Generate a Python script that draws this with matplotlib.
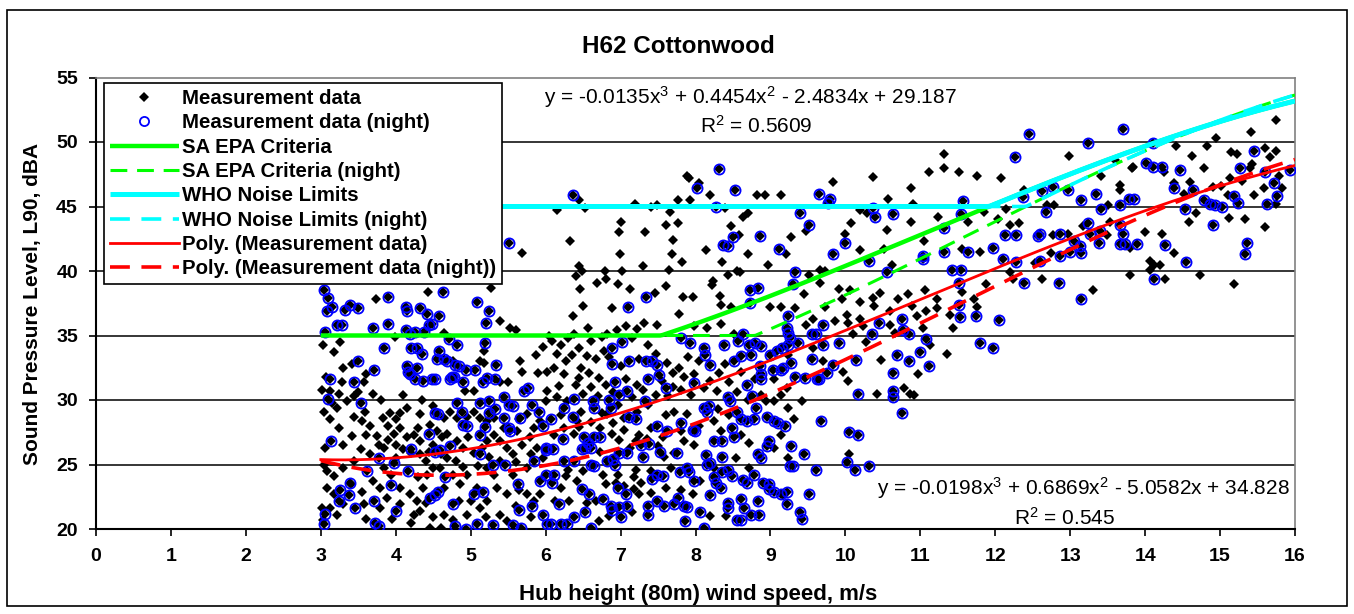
import numpy as np
import matplotlib
matplotlib.use("Agg")
import matplotlib.pyplot as plt
from matplotlib.patches import Rectangle

plt.rcParams['font.family'] = ['Liberation Sans', 'DejaVu Sans']
plt.rcParams['mathtext.default'] = 'regular'

# ---------------- data ----------------
# night measurements (blue circles; they are also part of the full measurement set)
night_pts = [
    (3.04,38.5),(3.10,37.9),(3.90,38.0),(4.63,38.4),(5.51,42.2),
    (3.08,36.9),(3.15,37.2),(3.32,37.0),(3.39,37.4),(3.50,37.1),(3.21,35.8),(3.28,35.8),(3.05,35.3),
    (3.69,35.6),(3.90,35.9),(4.14,37.2),(4.15,36.9),(4.32,37.1),(4.42,36.7),(4.58,36.5),(4.14,35.4),
    (4.19,35.1),(4.26,35.3),(4.38,35.3),(4.44,35.8),(4.48,35.9),(5.25,36.9),(5.21,36.0),(5.08,37.6),
    (3.10,30.1),(3.12,31.6),(3.14,26.85),(3.05,21.2),(3.04,20.4),
    (3.84,34.0),(4.71,34.7),(4.82,34.3),(4.21,34.0),(4.28,34.0),(4.35,33.6),(4.58,33.8),(5.19,34.4),
    (3.50,33.0),(3.71,32.3),(3.44,31.4),(3.53,29.8),
    (4.55,33.2),(4.64,33.2),(4.68,33.0),(4.79,32.7),(4.84,32.6),(4.15,32.6),(4.17,32.2),(4.19,32.0),
    (4.28,32.5),(4.26,31.6),(4.36,31.5),(4.48,31.6),(4.53,31.6),(4.72,31.6),(4.75,31.8),(4.78,31.8),
    (4.90,31.4),(4.94,32.3),(5.06,32.3),(5.16,31.4),(5.22,31.7),(5.33,31.6),(5.34,32.7),
    (4.82,29.8),(4.88,29.1),(5.13,29.8),(5.25,29.9),(5.33,29.3),(5.45,30.2),(5.51,29.6),(5.57,29.5),
    (5.66,28.6),(5.71,30.7),(5.77,30.9),(5.82,29.6),(5.91,29.1),(5.44,28.6),(5.51,27.8),(5.53,27.6),
    (5.24,29.0),(5.19,27.9),(4.90,28.1),(4.95,28.0),(5.13,27.3),(4.57,28.9),(4.53,29.0),(4.44,27.4),
    (4.72,26.4),(5.13,25.8),(4.21,26.2),(4.53,26.0),(4.59,26.1),(3.77,25.5),(3.97,25.1),(3.61,24.5),
    (4.17,24.5),(5.30,25.0),(5.46,25.0),(5.63,23.5),(5.84,25.3),(5.93,23.7),(6.00,24.2),(4.66,24.0),
    (3.93,23.4),(3.39,23.6),(3.25,23.0),(3.24,22.2),(3.38,22.6),(3.45,21.6),(3.71,22.2),(4.01,21.4),
    (4.57,22.9),(4.53,22.6),(4.46,22.4),(5.04,22.7),(5.16,22.9),(4.76,21.9),(5.82,21.8),(5.64,21.5),
    (3.72,20.5),(3.77,20.2),(4.79,20.2),(4.94,20.0),(5.08,20.4),(5.30,20.3),(5.57,20.3),(5.67,20.1),
    (5.96,21.1),(6.02,20.4),
    (7.10,37.2),(8.73,37.5),(9.23,36.5),(7.02,34.5),(6.89,34.0),(7.11,33.0),(6.89,32.8),(6.92,31.4),
    (7.09,30.7),(7.34,33.0),(7.42,33.0),(7.49,32.7),(7.51,31.9),(7.36,31.6),(7.61,30.9),(7.32,29.9),
    (7.81,34.8),(7.93,34.4),(8.11,34.0),(8.13,33.5),(8.20,32.7),(8.38,34.3),(8.51,33.0),(8.61,33.4),
    (8.63,35.1),(8.57,34.6),(8.72,34.3),(8.79,34.4),(8.88,34.2),(8.74,33.5),(8.86,32.6),(8.88,32.0),
    (8.87,31.6),(9.00,33.5),(9.09,33.8),(9.16,34.0),(9.23,34.3),(9.04,32.3),(9.14,32.3),
    (7.98,31.3),(8.43,30.2),(8.46,29.9),(8.11,29.4),(8.18,29.5),(8.16,29.1),(8.76,30.3),(8.81,29.4),
    (8.56,29.1),(8.69,31.2),
    (7.96,27.7),(7.99,27.6),(7.48,28.0),(7.62,27.6),(7.81,28.2),(8.49,27.8),(8.61,28.5),(8.69,28.4),
    (8.78,28.5),(8.96,28.7),(9.05,28.4),(9.10,28.2),(8.52,27.1),(8.25,26.8),(8.36,26.8),(8.98,26.8),
    (8.96,26.4),(8.83,25.8),(8.87,25.5),(8.36,25.6),(8.14,25.7),(7.75,25.9),(7.52,26.0),(7.38,26.6),
    (7.27,26.5),(7.30,25.6),(7.08,25.9),(6.98,25.9),(6.90,25.4),(6.92,25.0),(6.82,25.3),(6.73,27.1),
    (6.64,27.1),(6.60,26.3),(6.56,26.7),(6.52,26.3),(6.49,26.2),(6.51,27.1),(6.60,25.0),(6.64,24.9),
    (6.38,25.3),(6.24,25.3),(6.10,26.2),(6.23,27.0),(6.01,26.1),(6.00,26.3),(6.07,28.5),(5.96,28.0),
    (6.38,30.1),(6.63,29.9),(6.65,29.4),(6.85,30.0),(6.87,29.4),(6.98,30.4),(6.36,28.7),(6.24,29.4),
    (7.11,28.7),(7.20,28.5),
    (7.89,24.7),(7.91,24.4),(7.98,23.7),(7.49,24.2),(7.56,24.1),(7.42,23.9),(7.79,24.4),(8.15,25.0),
    (8.20,25.1),(8.25,24.0),(8.27,23.6),(8.36,24.4),(8.43,24.6),(8.49,24.1),(8.63,23.8),(8.69,23.6),
    (8.78,24.2),(8.90,23.6),(8.98,23.5),(8.98,23.1),(8.83,22.2),(9.05,22.9),(9.14,22.7),(8.20,22.6),
    (8.34,23.2),(8.43,22.0),(8.44,21.6),(8.61,22.3),(8.65,21.6),(8.74,21.1),(8.85,21.1),(8.55,20.7),
    (8.61,20.7),(7.76,22.4),(7.85,21.8),(7.89,21.7),(7.86,20.6),(8.06,21.3),(8.12,20.1),(7.58,21.8),
    (7.71,21.9),(7.49,22.2),(7.36,21.8),(7.37,21.1),(7.09,21.8),(7.00,20.9),(6.98,21.7),(6.89,21.5),
    (6.87,21.8),(7.07,22.7),(6.96,23.2),(6.76,22.3),(6.49,23.1),(6.58,22.7),(6.53,21.3),(6.38,20.9),
    (6.29,20.4),(6.20,20.4),(6.07,20.4),(6.18,21.9),(6.61,20.1),(6.11,24.2),(6.09,23.6),
    (6.37,45.9),(8.02,46.4),(8.32,47.9),(8.53,46.3),(8.28,45.0),(8.50,42.6),(8.37,42.0),(8.44,41.9),
    (8.86,42.7),(9.11,41.7),(7.34,38.0),(8.73,38.5),(8.84,38.7),
    (12.45,50.65),(12.26,48.8),(9.65,46.0),(9.79,45.6),(9.77,45.3),(9.39,44.5),(9.52,43.6),(10.37,44.9),
    (10.39,44.2),(10.64,44.4),(11.57,45.4),(11.54,44.4),(11.31,43.3),(9.99,42.2),(9.83,41.3),(10.32,40.8),
    (11.04,41.2),(11.04,40.9),(11.31,41.5),(11.64,41.5),(11.97,41.8),(12.13,42.8),(12.28,42.8),
    (12.10,40.9),(12.28,40.7),(12.37,45.7),(9.33,39.9),(9.30,39.0),(10.55,39.9),(11.42,40.1),(11.54,40.1),
    (11.52,39.1),(12.39,39.1),(11.52,37.4),
    (9.70,35.8),(10.45,36.0),(10.75,36.3),(11.53,36.4),(11.74,36.5),(12.05,36.2),(11.79,34.4),
    (11.97,34.0),(9.22,35.6),(9.24,35.2),(9.26,34.8),(9.55,35.1),(9.61,35.1),(9.37,34.4),(9.70,34.3),
    (9.92,34.4),(10.35,35.1),(10.77,35.4),(10.85,35.1),(11.08,34.7),(10.99,33.7),(10.69,33.5),(10.85,33.0),
    (11.12,32.6),(10.64,32.1),(10.14,33.1),(9.84,32.7),(9.76,32.1),(9.65,31.6),(9.62,31.6),(9.46,31.7),
    (9.33,31.8),(9.17,32.5),(9.28,32.9),(9.55,33.2),(10.17,30.5),(10.63,30.7),(10.63,30.2),(10.75,29.0),
    (9.68,28.4),(10.05,27.5),(10.17,27.3),(10.02,25.2),(10.13,24.6),(10.31,24.9),(9.19,28.0),(9.28,26.4),
    (9.45,25.8),(9.26,24.9),(9.30,24.9),(9.61,24.6),(9.22,22.9),(9.51,22.7),(9.22,21.9),(9.39,21.3),
    (9.42,20.8),
    (13.71,51.0),(13.24,49.9),(14.10,49.9),(14.01,48.4),(14.11,48.1),(14.22,48.1),(14.46,47.8),
    (15.27,48.0),(15.45,49.3),(15.60,47.7),(15.93,47.8),(15.72,46.8),(15.76,45.8),(15.63,45.2),(15.18,45.8),
    (15.24,45.3),(14.64,46.3),(14.38,46.4),(14.78,45.5),(14.87,45.2),(14.93,45.1),(15.03,45.0),(14.53,44.8),
    (14.91,43.6),(15.36,42.2),(15.33,41.3),(14.55,40.7),(14.26,42.0),(14.12,39.4),(12.62,46.2),(12.77,46.5),
    (12.97,46.3),(13.15,45.5),(13.35,46.0),(12.68,44.6),(13.41,44.8),(13.66,45.1),(13.78,45.6),(13.85,45.6),
    (12.60,42.9),(12.57,42.7),(12.86,42.9),(13.24,43.7),(13.27,42.9),(13.40,43.1),(13.66,43.6),(13.70,42.9),
    (13.66,42.1),(13.73,42.1),(13.89,42.1),(13.05,42.3),(13.13,41.9),(13.15,41.4),(13.00,41.5),(12.87,41.2),
    (12.60,40.8),(12.85,39.1),(13.14,37.8),(13.39,42.2),
]

# remaining (day) measurements: black diamonds only
day_pts = [
    (3.04,25.0),(3.02,21.6),(3.74,37.8),(4.43,38.35),(5.27,38.7),(5.68,41.4),
    (3.03,34.3),(3.25,34.5),(3.17,33.7),(3.99,34.9),(4.65,35.2),(5.39,36.1),(5.52,35.6),(5.61,35.4),
    (5.87,33.5),(5.97,34.1),(5.18,33.8),(5.18,32.9),(4.76,33.0),(3.41,32.8),(3.57,31.4),(3.07,31.8),
    (3.28,31.4),(3.01,30.8),(3.12,30.7),(3.24,30.5),(3.44,30.3),(3.50,30.6),(5.39,31.4),(5.50,31.4),
    (5.04,30.7),(4.93,30.7),(5.13,33.0),(5.66,33.0),(5.68,32.2),(5.90,32.1),(6.02,32.2),
    (3.04,29.1),(3.21,29.4),(3.12,28.5),(3.24,27.8),(3.44,28.7),(3.59,29.1),(3.55,28.4),(3.66,28.0),
    (3.41,27.2),(3.30,26.5),(3.06,26.3),(3.53,26.2),(3.44,25.3),(3.66,25.8),(3.08,24.5),(3.17,24.1),
    (3.30,24.7),(3.83,28.6),(3.92,29.0),(4.01,28.5),(3.89,28.0),(3.97,27.4),(4.06,27.8),(4.15,27.1),
    (4.30,27.8),(4.24,27.3),(4.33,26.8),(4.46,28.1),(4.55,27.6),(4.62,27.1),(4.68,27.4),(4.50,26.5),
    (4.44,26.0),(4.33,25.8),(4.10,26.2),(4.01,25.5),(3.84,26.3),(3.77,26.5),(4.82,26.8),(4.90,26.3),
    (4.97,27.1),(5.04,25.9),(5.15,26.3),(5.22,26.8),(5.31,27.3),(5.39,26.8),(5.48,26.3),(5.57,25.8),
    (5.68,26.5),(5.79,27.1),(5.88,26.3),(5.97,25.5),(5.84,27.8),(5.93,28.4),(5.62,27.6),(5.31,28.6),
    (5.22,28.4),(5.04,29.1),(5.13,28.6),(4.95,28.7),(4.82,28.6),(4.73,29.1),(4.64,28.6),(4.33,28.9),
    (4.15,29.4),(4.06,29.0),
    (3.08,23.2),(3.17,22.7),(3.30,21.9),(3.12,21.6),(3.03,20.7),(3.21,21.1),(3.57,21.9),(3.79,21.6),
    (3.88,22.4),(4.06,21.9),(4.06,23.2),(4.19,22.7),(4.28,22.2),(4.37,23.2),(4.33,21.4),(4.24,21.1),
    (4.50,20.9),(4.64,21.1),(4.60,20.1),(4.77,20.7),(4.95,21.1),(5.00,22.2),(5.13,21.6),(5.08,23.2),
    (4.86,23.5),(4.77,24.2),(4.95,24.2),(4.59,24.7),(4.42,24.2),(4.30,24.0),(3.93,24.2),(3.84,24.7),
    (3.70,23.7),(5.22,22.2),(5.35,23.2),(5.48,22.7),(5.39,21.1),(5.48,20.6),(5.75,22.7),(5.84,22.2),
    (5.93,22.7),(5.80,20.9),(5.31,24.2),(5.57,24.2),(5.75,24.7),(5.39,25.3),(5.22,24.7),(4.68,25.5),
    (4.50,24.7),(3.79,23.2),(4.46,20.1),
    (3.60,27.3),(3.75,27.2),(3.90,26.9),(4.00,26.5),(4.20,25.9),(4.40,25.3),(4.60,25.8),(4.80,25.3),
    (4.90,24.8),(5.10,24.9),(5.25,25.6),(5.60,25.2),(5.80,25.8),(5.65,28.5),(5.45,27.8),(5.75,28.9),
    (4.50,29.5),(4.35,30.0),(4.10,30.4),(3.80,30.0),(3.70,30.5),(3.60,32.0),(3.30,32.5),(3.15,29.8),
    (3.35,29.9),(3.40,23.5),(3.55,22.9),(3.60,20.8),(3.95,20.8),(4.20,20.5),(4.85,22.2),(5.20,20.9),
    (5.60,21.8),(5.65,23.0),(4.65,23.2),(4.40,22.0),
    (6.50,37.3),(6.89,37.1),(6.36,36.5),(6.56,35.6),(6.09,34.6),(7.78,36.7),(8.34,37.4),(8.47,37.2),
    (9.00,37.2),(9.14,37.2),(7.07,35.7),(7.22,35.5),(7.49,35.8),(7.31,36.0),(8.34,35.9),(8.16,35.6),
    (7.98,35.7),(8.52,35.1),(6.82,35.1),(6.38,35.1),(7.36,34.3),(7.47,33.6),(7.25,33.2),(7.62,32.9),
    (7.78,32.5),(7.98,32.0),(7.85,31.8),(7.70,32.1),(6.78,33.8),(6.67,33.2),(6.47,32.5),(6.27,33.0),
    (6.11,32.5),(6.58,32.1),(6.71,31.7),(6.40,31.2),(6.18,31.1),(6.02,30.7),(7.22,31.2),(7.07,31.6),
    (8.32,32.1),(8.45,31.4),(8.61,32.2),(8.79,31.6),(9.05,31.6),(9.14,30.4),(9.23,29.4),(8.94,29.9),
    (9.05,29.9),(8.87,30.4),(8.29,30.7),(8.11,30.9),(7.94,30.4),(7.80,30.8),(7.63,30.3),(7.47,30.4),
    (7.36,29.6),(7.22,29.1),(7.05,28.6),(6.96,29.6),(6.82,28.9),(6.73,27.8),(6.89,27.4),(6.98,26.9),
    (7.05,27.7),(7.25,27.3),(7.40,27.8),(7.56,27.1),(7.71,29.1),(7.89,28.9),(8.25,28.4),(8.34,27.6),
    (8.61,27.3),(8.72,26.7),(9.05,26.3),(9.14,27.3),(7.98,26.5),(7.85,26.8),(7.71,25.9),(7.58,25.6),
    (7.20,26.8),(7.13,26.3),(6.42,28.4),(6.24,27.8),(6.11,27.3),(6.47,29.1),(6.29,29.9),(6.00,29.9),
    (6.38,27.4),(6.73,26.0),(6.96,24.2),(6.94,23.6),(7.18,24.0),(7.27,23.6),(7.18,23.1),(7.25,22.7),
    (6.76,24.2),(6.27,24.1),(6.42,23.7),(6.20,23.2),(6.13,22.2),(6.31,22.2),(6.71,20.6),(6.67,22.2),
    (8.72,24.7),(8.54,25.5),(9.23,25.5),(8.25,24.7),(8.06,23.7),(7.96,22.7),(7.67,24.7),(8.20,21.0),
    (8.41,21.0),
    (6.05,35.0),(6.20,34.3),(6.30,34.8),(6.45,34.0),(6.60,34.6),(6.75,34.9),(6.95,35.4),(7.15,34.8),
    (6.15,33.6),(6.35,33.5),(6.55,33.4),(6.85,33.3),(7.00,32.6),(6.25,32.0),(6.45,31.7),(6.60,31.0),
    (6.80,31.2),(6.90,30.6),(6.15,30.2),(6.50,30.5),(6.70,30.3),(7.15,30.2),(7.30,30.8),(7.55,31.5),
    (7.70,31.0),(7.90,33.3),(8.05,33.0),(8.20,31.5),(8.40,32.8),(8.55,30.6),(8.70,30.0),(8.30,29.3),
    (8.45,28.8),(7.60,28.8),(7.80,27.6),(8.05,28.0),(7.35,27.0),(7.50,26.4),(6.60,28.3),(6.90,28.2),
    (6.20,28.8),(6.45,27.9),(6.75,29.0),
    (6.30,24.6),(6.50,24.5),(6.80,23.5),(7.05,23.3),(7.20,24.6),(7.40,24.5),(6.55,22.0),(6.85,21.0),
    (7.15,21.3),(7.40,22.8),(7.60,23.2),(7.80,23.0),
    (6.15,44.7),(6.32,42.3),(6.44,45.5),(6.53,44.9),(7.19,45.2),(7.41,45.0),(7.48,45.1),(7.66,44.6),
    (7.77,45.5),(7.92,45.5),(7.88,47.4),(7.91,47.2),(8.05,46.8),(8.20,45.9),(8.39,44.9),(8.64,44.2),
    (8.70,44.5),(8.82,45.9),(8.93,45.9),(9.14,45.9),(8.48,43.5),(8.58,42.8),(7.01,43.8),(6.98,43.0),
    (7.33,43.0),(7.61,43.6),(7.76,43.7),(7.70,42.4),(6.99,41.3),(7.68,41.3),(7.82,40.7),(8.14,41.6),
    (8.35,40.7),(8.70,41.3),(8.97,40.5),(9.21,41.3),(6.44,40.4),(6.48,40.0),(6.41,39.6),(6.46,38.6),
    (6.79,40.0),(6.81,39.4),(6.68,39.1),(6.96,39.0),(7.02,40.0),(7.30,40.4),(7.12,38.6),(7.46,38.3),
    (7.61,38.8),(7.64,40.1),(8.23,39.2),(8.22,38.9),(8.44,39.7),(8.55,40.0),(8.59,39.9),(8.33,38.1),
    (7.97,38.0),(7.83,38.0),
    (11.31,49.1),(11.31,48.0),(11.11,47.7),(11.52,47.7),(11.76,47.4),(12.08,47.2),(10.37,47.3),(9.84,46.9),
    (10.57,45.6),(10.87,46.4),(10.90,45.2),(10.19,44.7),(10.29,44.5),(10.08,43.7),(10.55,43.2),(10.88,43.8),
    (11.24,44.2),(11.64,43.8),(11.85,44.6),(12.15,44.8),(12.39,46.3),(12.04,44.0),(12.20,43.6),(12.32,43.7),
    (9.28,42.6),(9.48,43.1),(9.99,42.9),(11.05,42.3),(10.51,41.7),(10.19,41.6),(11.55,41.7),(11.79,41.5),
    (10.62,40.5),(9.66,40.1),(9.73,40.0),(9.52,39.7),(9.66,39.1),(9.92,38.6),(10.06,38.5),(10.20,37.6),
    (10.37,37.9),(10.38,37.3),(10.46,38.3),(10.70,37.8),(10.84,38.2),(11.06,38.5),(10.89,37.3),(11.22,37.8),
    (11.56,38.4),(11.71,37.8),(11.88,39.0),(11.76,37.2),(12.20,39.9),(12.24,39.4),(9.45,38.2),(9.96,37.8),
    (9.33,37.1),(9.73,37.2),(10.02,36.6),(10.19,36.3),(10.04,36.0),(10.24,35.7),(9.86,36.1),(9.57,36.3),
    (9.48,35.8),(10.10,35.1),(10.60,35.8),(10.66,35.2),(10.60,36.9),(10.95,36.5),(11.08,36.9),(11.22,37.1),
    (11.40,36.6),(11.44,35.6),(11.04,35.6),(11.13,34.3),(11.35,33.6),(10.97,32.0),(10.78,30.9),(10.86,30.5),
    (10.91,30.4),(10.42,30.5),(10.04,31.5),(9.97,32.2),(10.27,34.5),(10.48,33.1),(9.70,33.0),(9.57,34.0),
    (9.24,33.5),(9.22,30.9),(9.42,29.9),(9.31,28.5),(10.05,25.8),(9.17,22.6),
    (15.75,51.7),(15.41,50.8),(14.95,50.3),(14.82,49.7),(14.41,49.7),(15.15,49.2),(15.23,49.1),(15.60,49.5),
    (15.75,49.3),(15.67,48.8),(14.63,48.9),(14.78,48.0),(14.25,47.7),(13.82,48.0),(13.84,48.1),(13.60,48.6),
    (13.41,47.4),(12.98,48.9),(13.66,46.7),(13.66,46.3),(14.38,46.8),(14.60,46.9),(15.13,47.2),(15.29,47.0),
    (15.40,48.0),(15.42,48.3),(15.79,47.4),(15.58,46.4),(15.83,46.4),(15.45,45.9),(15.11,45.9),(15.01,46.6),
    (14.90,46.5),(14.52,46.0),(13.51,45.1),(12.78,45.1),(12.69,45.1),(15.12,44.1),(15.33,44.0),(15.60,43.4),
    (15.75,45.2),(14.58,43.8),(14.68,44.5),(13.53,43.8),(13.17,43.5),(12.77,42.8),(12.97,42.9),(13.49,42.8),
    (14.00,43.0),(14.22,42.9),(14.38,41.4),(13.80,41.8),(12.74,41.4),(12.53,40.6),(14.07,40.8),(14.12,40.5),
    (14.20,40.5),(14.07,40.1),(13.80,39.7),(14.26,39.4),(14.73,39.7),(15.19,39.0),(13.30,38.5),(12.62,39.4),
]

# polynomial trendlines shown on the chart (coefficients x^3, x^2, x, 1)
poly_all = [-0.0135, 0.4454, -2.4834, 29.187]
poly_night = [-0.0198, 0.6869, -5.0582, 34.828]
r2_all = 0.5609
r2_night = 0.545
wind_range = (3, 16)
sa_epa_floor = 35      # dBA
who_floor = 45         # dBA
criteria_margin = 5    # background + 5 dBA

x_ticks = list(range(0, 17))
y_ticks = [20, 25, 30, 35, 40, 45, 50, 55]

# ---------------- figure ----------------
W, H = 1354, 614
fig = plt.figure(figsize=(W / 100, H / 100), dpi=100)
fig.patch.set_facecolor('white')
fig.patches.append(Rectangle((7 / W, 1 - 606 / H), 1340 / W, 596 / H, transform=fig.transFigure,
                             fill=False, edgecolor='black', linewidth=1.2))

ax = fig.add_axes([96 / W, 1 - 529 / H, 1199 / W, 451.5 / H])

night_x = np.array([p[0] for p in night_pts])
night_y = np.array([p[1] for p in night_pts])
day_x = np.array([p[0] for p in day_pts])
day_y = np.array([p[1] for p in day_pts])
all_x = np.concatenate([day_x, night_x])
all_y = np.concatenate([day_y, night_y])

ax.plot(all_x, all_y, linestyle='none', marker='D', markersize=5.2, color='black',
        markeredgewidth=0, label='Measurement data', zorder=3)
ax.plot(night_x, night_y, linestyle='none', marker='o', markersize=7.3, markerfacecolor='none',
        markeredgecolor='#0000ff', markeredgewidth=1.3, label='Measurement data (night)', zorder=4)

xs = np.linspace(wind_range[0], wind_range[1], 400)
fit_all = np.polyval(poly_all, xs)
fit_night = np.polyval(poly_night, xs)

dash = (0, (5.5, 3.2))
ax.plot(xs, np.maximum(sa_epa_floor, fit_all + criteria_margin), color='#00ff00', lw=3.2,
        label='SA EPA Criteria', zorder=5, solid_capstyle='butt')
ax.plot(xs, np.maximum(sa_epa_floor, fit_night + criteria_margin), color='#00ff00', lw=2.2,
        linestyle=dash, label='SA EPA Criteria (night)', zorder=5)
ax.plot(xs, np.maximum(who_floor, fit_all + criteria_margin), color='#00ffff', lw=3.6,
        label='WHO Noise Limits', zorder=6, solid_capstyle='butt')
ax.plot(xs, np.maximum(who_floor, fit_night + criteria_margin), color='#00ffff', lw=2.6,
        linestyle=dash, label='WHO Noise Limits (night)', zorder=6)
ax.plot(xs, fit_all, color='#ff0000', lw=2.0, label='Poly. (Measurement data)', zorder=7)
ax.plot(xs, fit_night, color='#ff0000', lw=2.6, linestyle=dash,
        label='Poly. (Measurement data (night))', zorder=7)

ax.set_xlim(0, 16)
ax.set_ylim(20, 55)
ax.set_xticks(x_ticks)
ax.set_yticks(y_ticks)
ax.set_xticklabels([str(v) for v in x_ticks])
ax.set_yticklabels([str(v) for v in y_ticks])
for v in y_ticks[1:-1]:
    ax.axhline(v, color='black', lw=1.1, zorder=1)

ax.tick_params(axis='both', direction='out', length=5, width=1.2, labelsize=14, colors='black')
ax.tick_params(axis='x', pad=9)
ax.tick_params(axis='y', pad=8)
for lab in ax.get_xticklabels() + ax.get_yticklabels():
    lab.set_fontweight('bold')
ax.spines['left'].set_color('black')
ax.spines['bottom'].set_color('black')
ax.spines['left'].set_linewidth(1.5)
ax.spines['bottom'].set_linewidth(1.5)
ax.spines['top'].set_color('#808080')
ax.spines['right'].set_color('#808080')
ax.spines['top'].set_linewidth(1.2)
ax.spines['right'].set_linewidth(1.2)

leg = ax.legend(loc='upper left', bbox_to_anchor=(8 / 1199, (529 - 83) / 451.5), borderaxespad=0,
                frameon=True, fancybox=False, framealpha=1, edgecolor='black',
                prop={'weight': 'bold', 'size': 14.7}, handlelength=3.35, handletextpad=0.15,
                labelspacing=0.26, borderpad=0.3, markerscale=0.9)
leg.get_frame().set_linewidth(1.2)
leg.set_zorder(10)

# texts
fig.text(678 / W, 1 - 53 / H, 'H62 Cottonwood', ha='center', va='baseline', fontsize=17.5,
         fontweight='bold')
fig.text(33 / W, 1 - 304 / H, 'Sound Pressure Level, L90, dBA', rotation=90, ha='center',
         va='center', fontsize=15, fontweight='bold')
fig.text(698 / W, 1 - 600 / H, 'Hub height (80m) wind speed, m/s', ha='center', va='baseline',
         fontsize=16, fontweight='bold')

def eq_text(c):
    return ('y = %.4fx$^3$ + %.4fx$^2$ - %.4fx + %.3f' % (c[0], c[1], -c[2], c[3]))

fig.text(750 / W, 1 - 104 / H, eq_text(poly_all), ha='center', va='baseline', fontsize=15)
fig.text(756 / W, 1 - 133 / H, 'R$^2$ = %.4f' % r2_all, ha='center', va='baseline', fontsize=15)
fig.text(1290 / W, 1 - 495 / H, eq_text(poly_night), ha='right', va='baseline', fontsize=15)
fig.text(1065 / W, 1 - 525 / H, 'R$^2$ = %.3f' % r2_night, ha='center', va='baseline', fontsize=15)

fig.savefig('out.png', dpi=100, facecolor='white')
